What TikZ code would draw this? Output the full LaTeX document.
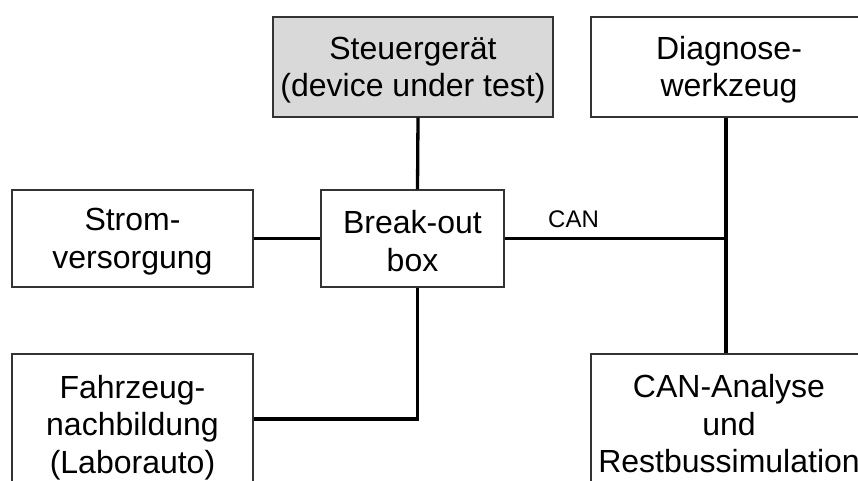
\documentclass[tikz,border=0pt]{standalone}
\usepackage{fontspec}
\setmainfont{Liberation Sans}
\definecolor{dutgrey}{HTML}{D9D9D9}
\definecolor{edge}{HTML}{333333}
% taller first line, so that the text block sits a little lower in its box
\newcommand\firstline{\rule{0pt}{28.5pt}}
\begin{document}
\begin{tikzpicture}[x=1pt,y=-1pt,
  block/.style={draw=edge, line width=1.2pt, fill=white, align=center,
    inner sep=0pt, font=\fontsize{32}{37.5}\selectfont},
  wire/.style={line width=3.3pt, black},
  buslabel/.style={font=\fontsize{24}{28}\selectfont, inner sep=0pt, anchor=base}]
\clip (0,0) rectangle (858,480);
\fill[white] (0,0) rectangle (858,480);

% blocks
\node[block, fill=dutgrey, minimum width=280pt, minimum height=100pt] (dut) at (413,67)
  {\firstline Steuergerät\\(device under test)};
\node[block, minimum width=276pt, minimum height=100pt] (diag) at (729,67)
  {\firstline Diagnose-\\werkzeug};
\node[block, minimum width=241pt, minimum height=97pt] (strom) at (132.5,238.5)
  {\firstline Strom-\\versorgung};
\node[block, minimum width=183pt, minimum height=97pt] (bob) at (412.5,238.5)
  {\firstline Break-out\\box};
\node[block, minimum width=241pt, minimum height=142pt] (fz) at (132.5,425)
  {\firstline Fahrzeug-\\nachbildung\\(Laborauto)};
\node[block, minimum width=276pt, minimum height=134pt] (can) at (729,421)
  {\firstline CAN-Analyse\\und\\Restbussimulation};

% wiring
\draw[wire] ([xshift=5pt]dut.south) -- ([xshift=5pt]bob.north);
\draw[wire] (strom.east) -- (bob.west);
\draw[wire] ([yshift=6pt]fz.east) -| ([xshift=5pt]bob.south);
\coordinate (dj) at ([xshift=-3pt]diag.south);
\coordinate (j) at (dj |- bob.east);
\draw[wire] (bob.east) -- (j);
\draw[wire] (dj) -- (dj |- can.north);
\node[buslabel] (canlbl) at (573.5,227) {CAN};
\end{tikzpicture}
\end{document}
